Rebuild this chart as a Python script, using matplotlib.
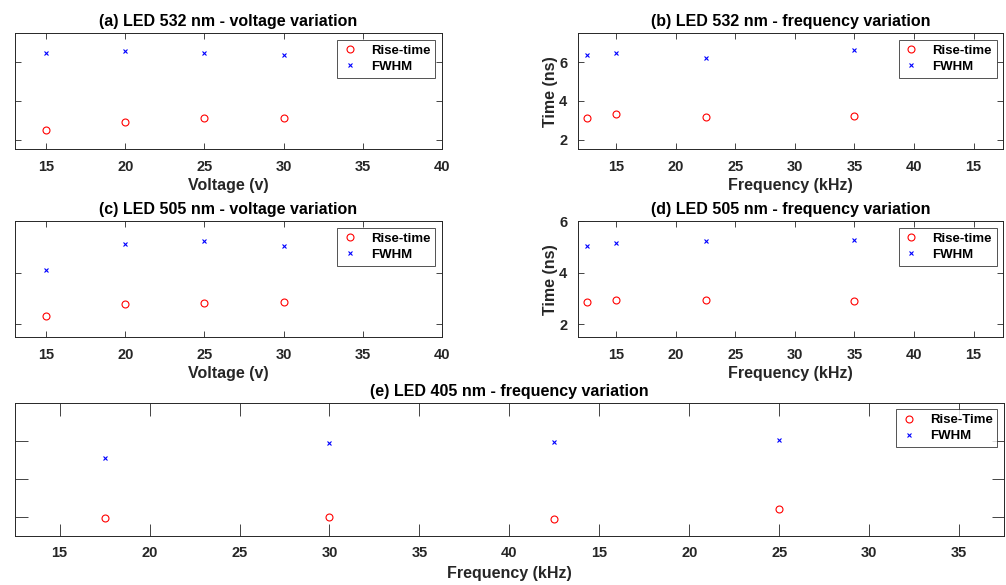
import numpy as np
import matplotlib
matplotlib.use("Agg")
import matplotlib.pyplot as plt

plt.rcParams['font.family'] = ['Liberation Sans', 'DejaVu Sans']
plt.rcParams['font.weight'] = 'bold'

# LED 532 nm
volt_532 = [15, 20, 25, 30]
rise_v_532 = [2.48, 2.89, 3.10, 3.14]
fwhm_v_532 = [6.50, 6.58, 6.50, 6.38]
freq_532 = [12.5, 15, 22.5, 35]
rise_f_532 = [3.14, 3.32, 3.17, 3.24]
fwhm_f_532 = [6.38, 6.50, 6.24, 6.66]

# LED 505 nm
volt_505 = [15, 20, 25, 30]
rise_v_505 = [2.32, 2.80, 2.83, 2.86]
fwhm_v_505 = [4.12, 5.13, 5.24, 5.04]
freq_505 = [12.5, 15, 22.5, 35]
rise_f_505 = [2.86, 2.95, 2.95, 2.90]
fwhm_f_505 = [5.04, 5.17, 5.24, 5.26]

# LED 405 nm
freq_405 = [17.5, 30, 42.5, 55]
rise_f_405 = [1.95, 2.02, 1.90, 2.43]
fwhm_f_405 = [5.10, 5.90, 5.93, 6.05]

volt_ticks = [15, 20, 25, 30, 35, 40]
freq_ticks_small = [15, 20, 25, 30, 35, 40, 45]
freq_labels_small = ['15', '20', '25', '30', '35', '40', '15']
freq_ticks_wide = [15, 20, 25, 30, 35, 40, 45, 50, 55, 60, 65]
freq_labels_wide = ['15', '20', '25', '30', '35', '40', '15', '20', '25', '30', '35']

dark = '#262626'
W, H = 1006, 585
fig = plt.figure(figsize=(W / 100, H / 100), dpi=100)


def box(l, t, r, b):
    return [l / W, 1 - b / H, (r - l) / W, (b - t) / H]


def style(ax, ticklen):
    ax.tick_params(direction='in', length=ticklen, width=0.6, colors=dark,
                   top=True, right=True, labelsize=10.5, pad=7.5)
    for s in ax.spines.values():
        s.set_color(dark)
        s.set_linewidth(0.7)
    for lab in ax.get_xticklabels() + ax.get_yticklabels():
        lab.set_fontweight('bold')


def scatter_pair(ax, x, rise, fwhm, rise_name):
    ax.plot(x, rise, 'o', ls='none', mfc='none', mec='red', ms=5, mew=0.8, label=rise_name)
    ax.plot(x, fwhm, 'x', ls='none', color='blue', ms=3.5, mew=0.8, label='FWHM')
    leg = ax.legend(loc='upper right', fontsize=9.5, frameon=True, fancybox=False,
                    handlelength=1.2, handletextpad=1.0, borderpad=0.35,
                    labelspacing=0.3, borderaxespad=0.5)
    leg.get_frame().set_edgecolor(dark)
    leg.get_frame().set_linewidth(0.7)
    for t in leg.get_texts():
        t.set_fontweight('bold')
        t.set_color('black')


def titles(ax, title, xlabel, ylabel=None):
    ax.set_title(title, fontsize=11.5, fontweight='bold', color='black', pad=5)
    ax.set_xlabel(xlabel, fontsize=11.5, fontweight='bold', color=dark, labelpad=3)
    if ylabel:
        ax.set_ylabel(ylabel, fontsize=11.5, fontweight='bold', color=dark, labelpad=1)


# (a)
ax = fig.add_axes(box(14.7, 33.3, 441.7, 149.3))
scatter_pair(ax, volt_532, rise_v_532, fwhm_v_532, 'Rise-time')
ax.set_xlim(13, 40)
ax.set_ylim(1.5, 7.5)
ax.set_xticks(volt_ticks)
ax.set_yticks([2, 4, 6])
ax.set_yticklabels([])
titles(ax, '(a) LED 532 nm - voltage variation', 'Voltage (v)')
style(ax, 4)

# (b)
ax = fig.add_axes(box(577.7, 33.3, 1003.3, 149.3))
scatter_pair(ax, freq_532, rise_f_532, fwhm_f_532, 'Rise-time')
ax.set_xlim(11.75, 47.5)
ax.set_ylim(1.5, 7.5)
ax.set_xticks(freq_ticks_small)
ax.set_xticklabels(freq_labels_small)
ax.set_yticks([2, 4, 6])
titles(ax, '(b) LED 532 nm - frequency variation', 'Frequency (kHz)', 'Time (ns)')
style(ax, 4)

# (c)
ax = fig.add_axes(box(14.7, 221.3, 441.7, 337.2))
scatter_pair(ax, volt_505, rise_v_505, fwhm_v_505, 'Rise-time')
ax.set_xlim(13, 40)
ax.set_ylim(1.5, 6)
ax.set_xticks(volt_ticks)
ax.set_yticks([2, 4, 6])
ax.set_yticklabels([])
titles(ax, '(c) LED 505 nm - voltage variation', 'Voltage (v)')
style(ax, 4)

# (d)
ax = fig.add_axes(box(577.7, 221.3, 1003.3, 337.2))
scatter_pair(ax, freq_505, rise_f_505, fwhm_f_505, 'Rise-time')
ax.set_xlim(11.75, 47.5)
ax.set_ylim(1.5, 6)
ax.set_xticks(freq_ticks_small)
ax.set_xticklabels(freq_labels_small)
ax.set_yticks([2, 4, 6])
titles(ax, '(d) LED 505 nm - frequency variation', 'Frequency (kHz)', 'Time (ns)')
style(ax, 4)

# (e)
ax = fig.add_axes(box(14.7, 402.7, 1004, 536))
scatter_pair(ax, freq_405, rise_f_405, fwhm_f_405, 'Rise-Time')
ax.set_xlim(12.5, 67.5)
ax.set_ylim(1, 8)
ax.set_xticks(freq_ticks_wide)
ax.set_xticklabels(freq_labels_wide)
ax.set_yticks([2, 4, 6])
ax.set_yticklabels([])
titles(ax, '(e) LED 405 nm - frequency variation', 'Frequency (kHz)')
ax.xaxis.labelpad = 4
style(ax, 9)

fig.savefig('out.png', dpi=100)
